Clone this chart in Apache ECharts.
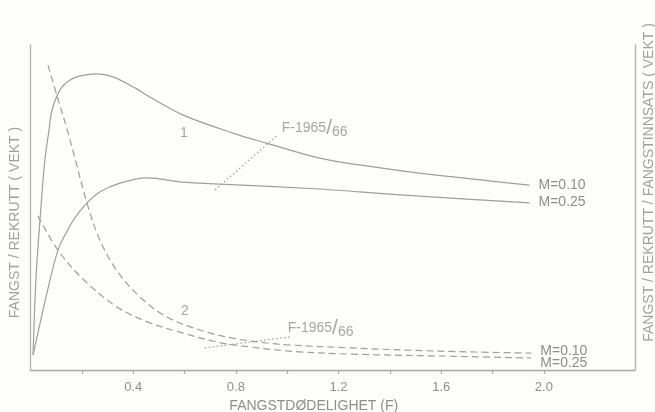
<!DOCTYPE html>
<html>
<head>
<meta charset="utf-8">
<script src="https://cdn.jsdelivr.net/npm/echarts@6/dist/echarts.min.js"></script>
<style>
  html, body { margin: 0; padding: 0; background: #fdfdfb; }
  #main-chart { width: 655px; height: 412px; }
</style>
</head>
<body>
<div id="main-chart"></div>
<script>
// fangst/rekrutt (solid) as [F, value]
const yieldM010 = [[0.010, 4.6], [0.021, 27.7], [0.037, 46.2], [0.056, 64.6], [0.072, 73.8], [0.084, 80.0],
    [0.115, 86.2], [0.154, 89.2], [0.193, 90.5], [0.259, 91.1], [0.321, 90.2], [0.414, 86.5], [0.465, 84.0],
    [0.593, 78.5], [0.788, 72.9], [0.920, 69.8], [1.126, 65.2], [1.282, 63.1], [1.516, 60.6], [1.944, 56.9]];
const yieldM025 = [[0.010, 4.6], [0.076, 27.7], [0.107, 36.9], [0.134, 41.5], [0.173, 46.8], [0.220, 51.4],
    [0.270, 54.8], [0.348, 57.5], [0.453, 59.1], [0.593, 57.8], [0.737, 57.2], [1.126, 55.7], [1.282, 54.8],
    [1.516, 53.5], [1.944, 51.4]];

// fangst/rekrutt/fangstinnsats (dashed, right axis)
const cpueM010 = [[0.068, 93.8], [0.107, 83.4], [0.142, 74.2], [0.173, 65.2], [0.220, 51.4], [0.270, 40.0],
    [0.337, 30.5], [0.426, 22.5], [0.531, 16.3], [0.660, 12.3], [0.788, 9.8], [0.920, 8.3], [1.010, 7.7],
    [1.243, 6.8], [1.593, 5.8], [1.951, 5.2]];
const cpueM025 = [[0.029, 47.4], [0.107, 36.9], [0.204, 28.0], [0.337, 19.4], [0.465, 14.5], [0.593, 11.4],
    [0.726, 8.6], [0.854, 7.1], [1.010, 5.8], [1.243, 4.9], [1.593, 4.3], [1.951, 3.7]];

// F-1965/66 markers
const f1965Upper = [[0.719, 55.4], [0.963, 72.3]];
const f1965Lower = [[0.679, 6.8], [1.010, 10.2]];

// ticks / labels on the F axis
const tickValues = [0.2, 0.4, 0.6, 0.8, 1.0, 1.2, 1.4, 1.6, 1.8, 2.0];
const labelValues = [0.4, 0.8, 1.2, 1.6, 2.0];

// annotations [F, value, text]
const notes = [[0.582, 72.9, '1'], [0.586, 18.2, '2'], [0.979, 74.5, 'F'], [1.002, 12.9, 'F']];

const grey = '#9e9e9e';
const textGrey = '#8e8e8e';
const font = 'Liberation Sans';

const myChart = echarts.init(document.getElementById('main-chart'));

function curve(data, axis, type, label, offset) {
    return {
        type: 'line',
        data: data,
        yAxisIndex: axis,
        smooth: 0.35,
        symbol: 'none',
        silent: true,
        lineStyle: {color: grey, width: 1.2, type: type},
        endLabel: label ? {
            show: true,
            formatter: label,
            distance: 9,
            offset: offset,
            color: textGrey,
            fontFamily: font,
            fontSize: 14
        } : {show: false}
    };
}

const option = {
    animation: false,
    backgroundColor: '#fdfdfb',
    grid: {left: 30.5, right: 20, top: 45, bottom: 42, containLabel: false, outerBoundsMode: 'none'},
    xAxis: {
        type: 'value',
        min: 0,
        max: 2.355,
        name: 'FANGSTDØDELIGHET (F)',
        nameLocation: 'middle',
        nameGap: 27,
        nameTextStyle: {color: textGrey, fontFamily: font, fontSize: 14, padding: [0, 38, 0, 0]},
        axisLine: {lineStyle: {color: '#a8a8a8', width: 1.3}},
        axisTick: {show: true, inside: false, length: 4, customValues: tickValues,
            lineStyle: {color: '#a8a8a8', width: 1.2}},
        axisLabel: {customValues: labelValues, margin: 11, color: textGrey, fontFamily: font, fontSize: 13,
            formatter: v => v.toFixed(1)},
        splitLine: {show: false}
    },
    yAxis: [{
        type: 'value',
        min: 0,
        max: 100,
        position: 'left',
        name: 'FANGST / REKRUTT ( VEKT )',
        nameLocation: 'middle',
        nameRotate: 90,
        nameGap: 8,
        nameTextStyle: {color: '#a0a0a0', fontFamily: font, fontSize: 14, padding: [0, 30, 0, 0]},
        axisLine: {show: true, lineStyle: {color: '#b0b0b0', width: 1.3}},
        axisTick: {show: false},
        axisLabel: {show: false},
        splitLine: {show: false}
    }, {
        type: 'value',
        min: 0,
        max: 100,
        position: 'right',
        name: 'FANGST / REKRUTT / FANGSTINNSATS ( VEKT )',
        nameLocation: 'middle',
        nameRotate: 90,
        nameGap: 7,
        nameTextStyle: {color: '#a0a0a0', fontFamily: font, fontSize: 14, padding: [0, 0, 0, 50]},
        axisLine: {show: true, lineStyle: {color: '#b0b0b0', width: 1.3}},
        axisTick: {show: false},
        axisLabel: {show: false},
        splitLine: {show: false}
    }],
    series: [
        curve(yieldM010, 0, 'solid', 'M=0.10', [0, 0]),
        curve(yieldM025, 0, 'solid', 'M=0.25', [0, -1]),
        curve(cpueM010, 1, [7, 4], 'M=0.10', [0, -2]),
        curve(cpueM025, 1, [7, 4], 'M=0.25', [0, 5]),
        {
            type: 'line', data: f1965Upper, symbol: 'none', silent: true,
            lineStyle: {color: grey, width: 1.2, type: [1.5, 2.5]}
        },
        {
            type: 'line', data: f1965Lower, yAxisIndex: 1, symbol: 'none', silent: true,
            lineStyle: {color: grey, width: 1.2, type: [1.5, 2.5]}
        },
        {
            type: 'scatter',
            data: notes.map(n => ({value: [n[0], n[1]], name: n[2]})),
            symbolSize: 0,
            silent: true,
            label: {
                show: true,
                position: 'right',
                distance: 0,
                color: textGrey,
                fontFamily: font,
                fontSize: 14,
                formatter: p => p.name === 'F' ? '{a|F-1965}{s|/}{b|66}' : p.name,
                rich: {
                    a: {fontFamily: font, fontSize: 14, color: textGrey},
                    s: {fontFamily: font, fontSize: 21, color: textGrey},
                    b: {fontFamily: font, fontSize: 14, color: textGrey, padding: [9, 0, 0, 0]}
                }
            }
        }
    ]
};

myChart.setOption(option);
</script>
</body>
</html>
